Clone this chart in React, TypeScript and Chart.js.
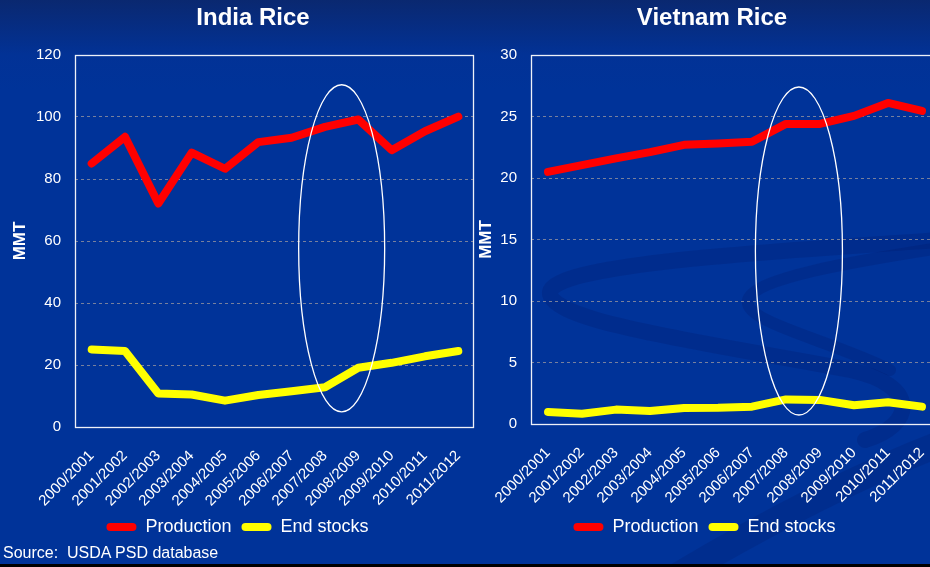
import React, { useEffect, useRef } from "react";
import { Chart, registerables } from "chart.js";

Chart.register(...registerables);

// ---------------- data ----------------
const seasons = [
  "2000/2001", "2001/2002", "2002/2003", "2003/2004", "2004/2005", "2005/2006",
  "2006/2007", "2007/2008", "2008/2009", "2009/2010", "2010/2011", "2011/2012",
];

const indiaProduction = [85.0, 93.6, 72.1, 88.5, 83.3, 91.9, 93.3, 96.8, 99.2, 89.3, 95.4, 100.1];
const indiaEndStocks = [25.0, 24.5, 10.8, 10.5, 8.5, 10.3, 11.5, 12.8, 19.1, 20.7, 22.8, 24.5];
const vietnamProduction = [20.5, 21.05, 21.6, 22.1, 22.7, 22.8, 22.95, 24.4, 24.4, 25.05, 26.1, 25.45];
const vietnamEndStocks = [0.98, 0.84, 1.17, 1.06, 1.3, 1.32, 1.41, 2.0, 1.96, 1.52, 1.77, 1.41];

const seriesNames = ["Production", "End stocks"];
const panelTitles = ["India Rice", "Vietnam Rice"];
const axisTitle = "MMT";
const sourceNote = "Source:  USDA PSD database";

// y axis: min, max, step
const indiaYRange = [0, 120, 20];
const vietnamYRange = [0, 30, 5];

// highlight ellipse: centre category index, half width (categories), low value, high value
const indiaHighlight = [7.5, 1.29, 4.9, 110.4];
const vietnamHighlight = [7.38, 1.28, 0.73, 27.4];

// ---------------- styling ----------------
const FONT = "'Liberation Sans', Arial, Helvetica, sans-serif";
Chart.defaults.font.family = FONT;

function drawSwoosh(ctx: CanvasRenderingContext2D) {
  ctx.save();
  ctx.lineCap = "round";
  ctx.strokeStyle = "rgba(0, 22, 95, 0.2)";
  ctx.lineWidth = 16;
  ctx.beginPath();
  ctx.moveTo(470, 240);
  ctx.bezierCurveTo(330, 250, 85, 262, 80, 292);
  ctx.bezierCurveTo(76, 322, 250, 345, 380, 370);
  ctx.bezierCurveTo(450, 385, 445, 425, 395, 440);
  ctx.stroke();
  ctx.lineWidth = 12;
  ctx.beginPath();
  ctx.moveTo(470, 248);
  ctx.bezierCurveTo(380, 262, 285, 278, 278, 300);
  ctx.bezierCurveTo(272, 322, 360, 340, 420, 370);
  ctx.stroke();
  ctx.lineWidth = 26;
  ctx.strokeStyle = "rgba(0, 22, 95, 0.18)";
  ctx.beginPath();
  ctx.moveTo(200, 580);
  ctx.bezierCurveTo(300, 520, 400, 470, 480, 440);
  ctx.stroke();
  ctx.restore();
}

const panelPlugin = {
  id: "panelDecor",
  beforeDraw(chart: any, _a: any, opts: any) {
    if (opts.swoosh) drawSwoosh(chart.ctx);
  },
  beforeDatasetsDraw(chart: any) {
    const { ctx, chartArea: a } = chart;
    ctx.save();
    ctx.strokeStyle = "#eef1f8";
    ctx.lineWidth = 1.3;
    const l = Math.round(a.left) + 0.5;
    const t = Math.round(a.top) + 0.5;
    const r = Math.round(a.right) - 1.5;
    const b = Math.round(a.bottom) + 0.5;
    ctx.strokeRect(l, t, r - l, b - t);
    ctx.restore();
  },
  afterDatasetsDraw(chart: any, _a: any, opts: any) {
    const { ctx } = chart;
    const xs = chart.scales.x;
    const ys = chart.scales.y;
    const [c, hw, lo, hi] = opts.highlight;
    const cx = xs.getPixelForValue(c);
    const rx = xs.getPixelForValue(c + hw) - cx;
    const yTop = ys.getPixelForValue(hi);
    const yBot = ys.getPixelForValue(lo);
    ctx.save();
    ctx.strokeStyle = "#ffffff";
    ctx.lineWidth = 1.3;
    ctx.beginPath();
    ctx.ellipse(cx, (yTop + yBot) / 2, rx, (yBot - yTop) / 2, 0, 0, Math.PI * 2);
    ctx.stroke();
    ctx.restore();
  },
  afterDraw(chart: any, _a: any, opts: any) {
    const { ctx } = chart;
    ctx.save();
    ctx.fillStyle = "#ffffff";
    ctx.font = `bold 24px ${FONT}`;
    ctx.textAlign = "center";
    ctx.textBaseline = "alphabetic";
    ctx.fillText(opts.title, opts.titleX, 25);
    ctx.restore();
  },
};

type PanelProps = {
  left: number;
  width: number;
  title: string;
  production: number[];
  stocks: number[];
  yRange: number[];
  highlight: number[];
  yAxisWidth: number;
  yTitlePad: number;
  xAxisHeight: number;
  bottomPad: number;
  titleX: number;
  swoosh: boolean;
};

function Panel(p: PanelProps) {
  const ref = useRef<HTMLCanvasElement | null>(null);
  useEffect(() => {
    if (!ref.current) return;
    const [yMin, yMax, yStep] = p.yRange;
    const chart = new Chart(ref.current, {
      type: "line",
      data: {
        labels: seasons,
        datasets: [
          {
            label: seriesNames[0],
            data: p.production,
            borderColor: "#ff0000",
            backgroundColor: "#ff0000",
            borderWidth: 8,
            pointRadius: 0,
            tension: 0,
            borderJoinStyle: "round",
            borderCapStyle: "round",
          },
          {
            label: seriesNames[1],
            data: p.stocks,
            borderColor: "#ffff00",
            backgroundColor: "#ffff00",
            borderWidth: 8,
            pointRadius: 0,
            tension: 0,
            borderJoinStyle: "round",
            borderCapStyle: "round",
          },
        ],
      },
      options: {
        responsive: false,
        animation: false,
        devicePixelRatio: 1,
        layout: { padding: { top: 55, left: 0, right: 0, bottom: p.bottomPad } },
        scales: {
          x: {
            offset: true,
            grid: { display: false },
            border: { display: false },
            ticks: {
              color: "#ffffff",
              font: { size: 15 },
              minRotation: 45,
              maxRotation: 45,
              autoSkip: false,
              padding: 12,
            },
            afterFit: (s: any) => {
              s.height = p.xAxisHeight;
              s.paddingRight = 0;
              s.paddingLeft = 0;
            },
          },
          y: {
            min: yMin,
            max: yMax,
            grid: {
              drawTicks: false,
              lineWidth: 1,
              color: (c: any) =>
                c.tick && (c.tick.value === yMin || c.tick.value === yMax)
                  ? "rgba(0,0,0,0)"
                  : "rgba(140,142,158,0.85)",
            },
            border: { display: false, dash: [3, 3] },
            ticks: { stepSize: yStep, color: "#ffffff", font: { size: 15 }, padding: 14 },
            title: {
              display: true,
              text: axisTitle,
              color: "#ffffff",
              font: { size: 17, weight: "bold" },
              padding: { top: p.yTitlePad, bottom: 0 },
            },
            afterFit: (s: any) => {
              s.width = p.yAxisWidth;
            },
          },
        },
        plugins: {
          title: { display: false },
          tooltip: { enabled: false },
          legend: {
            position: "bottom",
            labels: {
              color: "#ffffff",
              font: { size: 18 },
              boxWidth: 30,
              boxHeight: 8,
              padding: 10,
              useBorderRadius: true,
              borderRadius: 4,
              generateLabels: (ch: any) =>
                ch.data.datasets.map((d: any, i: number) => ({
                  text: d.label,
                  fillStyle: d.borderColor,
                  strokeStyle: d.borderColor,
                  lineWidth: 0,
                  hidden: false,
                  datasetIndex: i,
                  fontColor: "#ffffff",
                  borderRadius: 4,
                })),
            },
          },
          panelDecor: {
            highlight: p.highlight,
            title: p.title,
            titleX: p.titleX,
            swoosh: p.swoosh,
          },
        } as any,
      },
      plugins: [panelPlugin as any],
    });
    return () => chart.destroy();
  }, []);
  return (
    <canvas
      ref={ref}
      width={p.width}
      height={567}
      style={{ position: "absolute", left: p.left, top: 0, width: p.width, height: 567 }}
    />
  );
}

export default function App() {
  return (
    <div
      style={{
        position: "fixed",
        left: 0,
        top: 0,
        width: 930,
        height: 567,
        overflow: "hidden",
        background: "linear-gradient(to bottom, #0a2870 0px, #023296 55px, #003399 90px, #003399 100%)",
      }}
    >
      <Panel
        left={470}
        width={469}
        title={panelTitles[1]}
        production={vietnamProduction}
        stocks={vietnamEndStocks}
        yRange={vietnamYRange}
        highlight={vietnamHighlight}
        yAxisWidth={61}
        yTitlePad={6}
        xAxisHeight={84}
        bottomPad={21}
        titleX={242}
        swoosh={true}
      />
      <Panel
        left={0}
        width={475}
        title={panelTitles[0]}
        production={indiaProduction}
        stocks={indiaEndStocks}
        yRange={indiaYRange}
        highlight={indiaHighlight}
        yAxisWidth={75}
        yTitlePad={10}
        xAxisHeight={81}
        bottomPad={21}
        titleX={253}
        swoosh={false}
      />
      <div
        style={{
          position: "absolute",
          left: 3,
          top: 544,
          color: "#ffffff",
          font: `16px ${FONT}`,
          whiteSpace: "pre",
        }}
      >
        {sourceNote}
      </div>
      <div style={{ position: "absolute", left: 0, top: 564, width: 930, height: 3, background: "#000" }} />
    </div>
  );
}
